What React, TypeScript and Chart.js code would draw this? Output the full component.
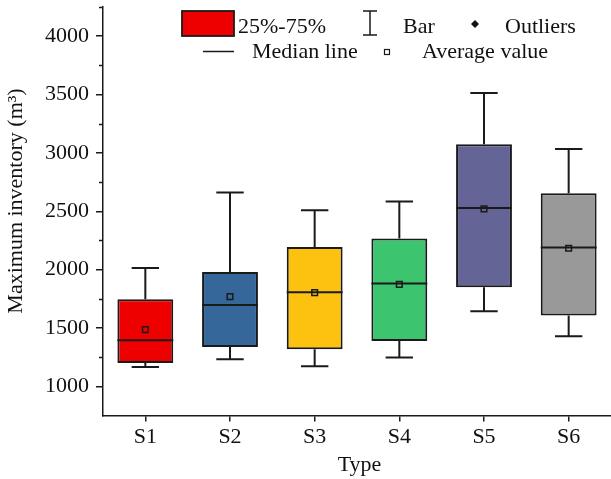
import React, { useEffect, useRef } from 'react';
import { Chart, registerables } from 'chart.js';

Chart.register(...registerables);

const categories = ['S1', 'S2', 'S3', 'S4', 'S5', 'S6'];
const whiskerLow = [1166, 1231, 1171, 1246, 1643, 1429];
const q1 = [1200, 1337, 1317, 1389, 1849, 1606];
const median = [1394, 1697, 1806, 1880, 2528, 2189];
const q3 = [1746, 1980, 2194, 2266, 3074, 2654];
const whiskerHigh = [2014, 2660, 2509, 2583, 3514, 3034];
const mean = [1486, 1769, 1803, 1874, 2520, 2183];
const boxColors = ['#EE0000', '#35679A', '#FDC20F', '#3DC46E', '#646496', '#999999'];
const yMajorTicks = [1000, 1500, 2000, 2500, 3000, 3500, 4000];
const yMinorTicks = [1250, 1750, 2250, 2750, 3250, 3750, 4250];

const FONT = '"Liberation Serif", "Times New Roman", serif';
const INK = '#1a1a1a';

export default function App() {
  const ref = useRef<HTMLCanvasElement>(null);

  useEffect(() => {
    const canvas = ref.current;
    if (!canvas) return;

    const extras = {
      id: 'boxExtras',
      afterDatasetDraw(chart: any, args: any) {
        if (args.index !== 1) return;
        const ctx = chart.ctx;
        const xs = chart.scales.x;
        const ys = chart.scales.y;
        const meta = chart.getDatasetMeta(1);
        ctx.save();
        meta.data.forEach((bar: any, i: number) => {
          const cx = xs.getPixelForValue(i);
          const half = bar.width / 2;
          const cap = bar.width * 0.245;
          const yLo = ys.getPixelForValue(whiskerLow[i]);
          const yHi = ys.getPixelForValue(whiskerHigh[i]);
          const yQ1 = ys.getPixelForValue(q1[i]);
          const yQ3 = ys.getPixelForValue(q3[i]);
          const yMed = ys.getPixelForValue(median[i]);
          ctx.strokeStyle = INK;
          ctx.lineWidth = 2;
          ctx.beginPath();
          ctx.moveTo(cx, yQ3);
          ctx.lineTo(cx, yHi);
          ctx.moveTo(cx - cap, yHi);
          ctx.lineTo(cx + cap, yHi);
          ctx.moveTo(cx, yQ1);
          ctx.lineTo(cx, yLo);
          ctx.moveTo(cx - cap, yLo);
          ctx.lineTo(cx + cap, yLo);
          ctx.stroke();
          ctx.lineWidth = 2;
          ctx.beginPath();
          ctx.moveTo(cx - half, yMed);
          ctx.lineTo(cx + half, yMed);
          ctx.stroke();
        });
        ctx.restore();
      },
      afterDraw(chart: any) {
        const ctx = chart.ctx;
        const ys = chart.scales.y;
        const area = chart.chartArea;
        ctx.save();
        // minor ticks
        ctx.strokeStyle = INK;
        ctx.lineWidth = 1.5;
        ctx.beginPath();
        yMinorTicks.forEach((v) => {
          const py = Math.round(ys.getPixelForValue(v)) + 0.5;
          ctx.moveTo(area.left - 4, py);
          ctx.lineTo(area.left, py);
        });
        ctx.stroke();

        // axis titles
        ctx.fillStyle = '#111';
        ctx.font = `22px ${FONT}`;
        ctx.textAlign = 'center';
        ctx.textBaseline = 'alphabetic';
        ctx.fillText('Type', 359.5, 471);
        ctx.save();
        ctx.translate(22, 201);
        ctx.rotate(-Math.PI / 2);
        ctx.fillText('Maximum inventory (m³)', 0, 0);
        ctx.restore();

        // legend
        ctx.textAlign = 'left';
        ctx.fillStyle = boxColors[0];
        ctx.fillRect(182, 11, 52, 25);
        ctx.strokeStyle = INK;
        ctx.lineWidth = 1.8;
        ctx.strokeRect(182, 11, 52, 25);
        ctx.fillStyle = '#111';
        ctx.fillText('25%-75%', 238, 33);

        ctx.lineWidth = 1.5;
        ctx.beginPath();
        ctx.moveTo(370, 11);
        ctx.lineTo(370, 35);
        ctx.moveTo(363, 11);
        ctx.lineTo(377, 11);
        ctx.moveTo(363, 35);
        ctx.lineTo(377, 35);
        ctx.stroke();
        ctx.fillText('Bar', 403, 33);

        ctx.beginPath();
        ctx.moveTo(475, 20);
        ctx.lineTo(479, 24);
        ctx.lineTo(475, 28);
        ctx.lineTo(471, 24);
        ctx.closePath();
        ctx.fillStyle = '#111';
        ctx.fill();
        ctx.fillText('Outliers', 505, 33);

        ctx.beginPath();
        ctx.moveTo(203, 51.5);
        ctx.lineTo(234, 51.5);
        ctx.stroke();
        ctx.fillText('Median line', 252, 58);

        ctx.lineWidth = 1.2;
        ctx.strokeRect(384.5, 49.5, 5, 5);
        ctx.fillText('Average value', 422, 58);
        ctx.restore();
      },
    };

    const chart = new Chart(canvas, {
      type: 'bar',
      data: {
        labels: categories,
        datasets: [
          {
            type: 'line',
            label: 'Average value',
            data: mean,
            showLine: false,
            pointStyle: 'rect',
            pointRadius: 4,
            pointBorderWidth: 1.5,
            pointBorderColor: INK,
            pointBackgroundColor: 'rgba(0,0,0,0)',
          } as any,
          {
            type: 'bar',
            label: '25%-75%',
            data: categories.map((_, i) => [q1[i], q3[i]]),
            backgroundColor: boxColors,
            borderColor: INK,
            borderWidth: 2,
            borderSkipped: false,
            barPercentage: 0.66,
            categoryPercentage: 1,
          } as any,
        ],
      },
      options: {
        responsive: false,
        animation: false,
        devicePixelRatio: 1,
        layout: { autoPadding: false, padding: { top: 7, left: 0, right: 0, bottom: 0 } },
        plugins: { legend: { display: false }, tooltip: { enabled: false } },
        scales: {
          x: {
            type: 'category',
            offset: true,
            grid: { display: true, offset: false, drawOnChartArea: false, drawTicks: true, tickLength: 6, color: INK, lineWidth: 1.5 },
            border: { display: true, color: INK, width: 1.5 },
            ticks: { color: '#111', font: { family: FONT, size: 22 }, padding: 3 },
            afterFit(scale: any) {
              scale.height = 63.5;
              scale.paddingLeft = 0;
              scale.paddingRight = 0;
            },
          },
          y: {
            type: 'linear',
            min: 750,
            max: 4250,
            afterBuildTicks(scale: any) {
              scale.ticks = yMajorTicks.map((v) => ({ value: v }));
            },
            grid: { display: true, drawOnChartArea: false, drawTicks: true, tickLength: 7, color: INK, lineWidth: 1.5 },
            border: { display: true, color: INK, width: 1.5 },
            ticks: {
              color: '#111',
              font: { family: FONT, size: 22 },
              padding: 7,
              callback: (v: any) => String(v),
            },
            afterFit(scale: any) {
              scale.width = 103;
              scale.paddingTop = 0;
              scale.paddingBottom = 0;
            },
          },
        },
      } as any,
      plugins: [extras],
    });

    return () => chart.destroy();
  }, []);

  return (
    <div style={{ position: 'absolute', left: 0, top: 0, width: 611, height: 479, background: '#fff' }}>
      <canvas ref={ref} width={611} height={479} style={{ display: 'block' }} />
    </div>
  );
}
